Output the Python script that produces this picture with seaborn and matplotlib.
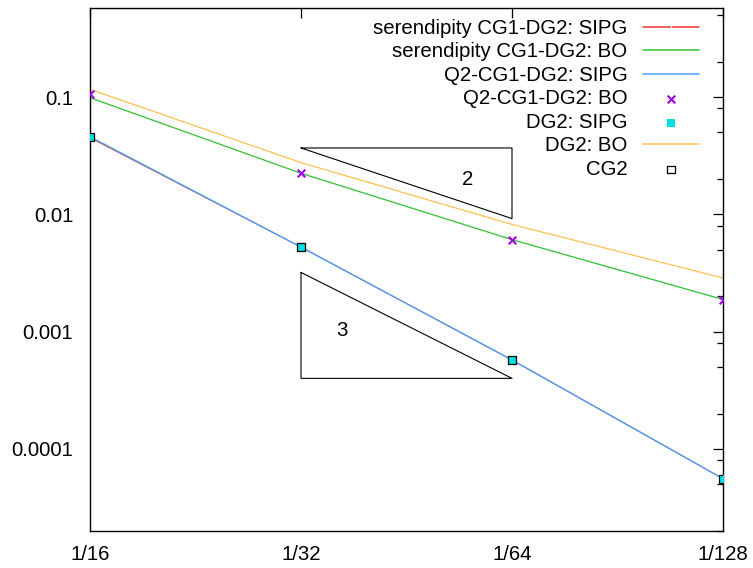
import matplotlib
matplotlib.use("Agg")
import matplotlib.pyplot as plt
import numpy as np
import pandas as pd
import seaborn as sns
from matplotlib.ticker import LogLocator, FixedLocator, FixedFormatter, NullFormatter

# ---- data ----
h_den = [16, 32, 64, 128]
h_labels = ["1/16", "1/32", "1/64", "1/128"]

seren_sipg = [0.0450, 0.00526, 0.000574, 5.58e-5]
seren_bo = [0.0987, 0.0224, 0.00609, 0.00188]
q2_sipg = [0.0459, 0.00526, 0.000574, 5.58e-5]
q2_bo = [0.1054, 0.0224, 0.00609, 0.00188]
dg2_sipg = [0.0459, 0.00526, 0.000574, 5.58e-5]
dg2_bo = [0.1163, 0.0276, 0.0082, 0.00287]
cg2 = [0.0459, 0.00526, 0.000574, 5.58e-5]

tri2_x = [32, 64, 64, 32]
tri2_y = [0.0368, 0.0368, 0.0092, 0.0368]
tri3_x = [32, 32, 64, 32]
tri3_y = [0.0032, 0.0004, 0.0004, 0.0032]
tri2_label = (55.4, 0.0199, "2")
tri3_label = (36.6, 0.00102, "3")

sns.set_style("white")
plt.rcParams["font.family"] = ["Liberation Sans", "DejaVu Sans"]
plt.rcParams["text.color"] = "black"
plt.rcParams["xtick.color"] = "black"
plt.rcParams["ytick.color"] = "black"
plt.rcParams["xtick.labelcolor"] = "black"
plt.rcParams["ytick.labelcolor"] = "black"

FS = 14.7

fig = plt.figure(figsize=(7.53, 5.68), dpi=100)
ax = fig.add_axes([90 / 753, 37 / 568, 633 / 753, 523 / 568])

def df(y):
    return pd.DataFrame({"h": h_den, "err": y})

RED = "#f03030"
GREEN = "#30c030"
BLUE = "#4aa0f5"
PURPLE = "#a000e8"
CYAN = "#00e0e0"
ORANGE = "#ffc050"

sns.lineplot(data=df(seren_sipg), x="h", y="err", ax=ax, color=RED, lw=0.7,
             marker="|", markersize=5, markeredgewidth=0.8,
             label="serendipity CG1-DG2: SIPG", zorder=2)
sns.lineplot(data=df(seren_bo), x="h", y="err", ax=ax, color=GREEN, lw=0.9,
             label="serendipity CG1-DG2: BO", zorder=2)
sns.lineplot(data=df(q2_sipg), x="h", y="err", ax=ax, color=BLUE, lw=1.0,
             label="Q2-CG1-DG2: SIPG", zorder=3)
sns.scatterplot(data=df(q2_bo), x="h", y="err", ax=ax, color=PURPLE, marker="x",
                s=30, linewidth=1.5, label="Q2-CG1-DG2: BO", zorder=5)
sns.scatterplot(data=df(dg2_sipg), x="h", y="err", ax=ax, color=CYAN, marker="s",
                s=40, linewidth=0, label="DG2: SIPG", zorder=5)
sns.lineplot(data=df(dg2_bo), x="h", y="err", ax=ax, color=ORANGE, lw=0.9,
             label="DG2: BO", zorder=2)
sns.scatterplot(data=df(cg2), x="h", y="err", ax=ax, marker="s", s=30,
                facecolor="none", edgecolor="black", linewidth=0.9,
                label="CG2", zorder=6)

ax.plot(tri2_x, tri2_y, color="black", lw=0.8, zorder=1)
ax.plot(tri3_x, tri3_y, color="black", lw=0.8, zorder=1)
ax.text(tri2_label[0], tri2_label[1], tri2_label[2], fontsize=FS,
        ha="center", va="center", color="black")
ax.text(tri3_label[0], tri3_label[1], tri3_label[2], fontsize=FS,
        ha="center", va="center", color="black")

ax.set_xscale("log", base=2)
ax.set_yscale("log")
ax.set_xlim(16, 128)
ax.set_ylim(2.0e-5, 0.574)

ax.xaxis.set_major_locator(FixedLocator(h_den))
ax.xaxis.set_major_formatter(FixedFormatter(h_labels))
ax.xaxis.set_minor_locator(FixedLocator([]))
ax.yaxis.set_major_locator(FixedLocator([1e-4, 1e-3, 1e-2, 1e-1]))
ax.yaxis.set_major_formatter(FixedFormatter(["0.0001", "0.001", "0.01", "0.1"]))
ax.yaxis.set_minor_locator(LogLocator(base=10, subs=(2, 5, 8), numticks=20))
ax.yaxis.set_minor_formatter(NullFormatter())

ax.tick_params(which="major", direction="in", length=7, width=0.9,
               top=True, right=True, labelsize=FS, color="black",
               labelcolor="black")
ax.tick_params(which="minor", direction="in", length=4, width=0.9,
               top=True, right=True, color="black")
ax.tick_params(axis="x", which="major", pad=10)
ax.tick_params(axis="y", which="major", pad=12)
for s in ax.spines.values():
    s.set_color("black")
    s.set_linewidth(1.0)
ax.set_xlabel("")
ax.set_ylabel("")

handles, labels = ax.get_legend_handles_labels()
leg = ax.legend(handles, labels, loc="upper right",
                bbox_to_anchor=((699 - 90) / 633, (531 - 19) / 523),
                markerfirst=False, frameon=False, fontsize=FS,
                handlelength=2.75, handletextpad=0.75, labelspacing=0.22,
                borderpad=0, borderaxespad=0)
for t in leg.get_texts():
    t.set_color("black")
for ln in leg.get_lines():
    ln.set_linewidth(1.1)

fig.savefig("out.png", dpi=100)
